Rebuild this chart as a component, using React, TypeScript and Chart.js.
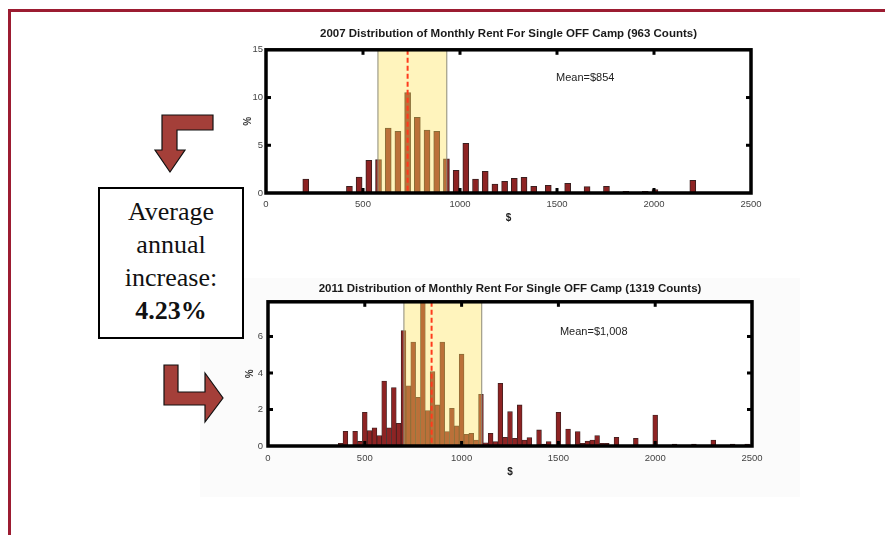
import React, { useEffect, useRef } from "react";
import { Chart, registerables } from "chart.js";
Chart.register(...registerables);

// ---- data ----
const title2007 = "2007 Distribution of Monthly Rent For Single OFF Camp (963 Counts)";
const bins2007 = [205, 430, 480, 530, 580, 630, 680, 730, 780, 830, 880, 930, 980, 1030, 1080, 1130, 1180, 1230, 1280, 1330, 1380, 1455, 1555, 1655, 1755, 1855, 1955, 2005, 2055, 2150, 2200];
const pct2007 = [1.46, 0.7, 1.67, 3.42, 3.49, 6.8, 6.45, 10.53, 7.92, 6.59, 6.45, 3.59, 2.37, 5.2, 1.46, 2.27, 0.94, 1.22, 1.53, 1.64, 0.7, 0.8, 1.0, 0.66, 0.7, 0.17, 0.17, 0.35, 0.1, 0.1, 1.33];
const band2007 = [577, 932];
const median2007 = 730;
const meanLabel2007 = "Mean=$854";
const meanLabelPos2007 = [1495, 12];

const title2011 = "2011 Distribution of Monthly Rent For Single OFF Camp (1319 Counts)";
const bins2011 = [375, 400, 450, 475, 500, 525, 550, 575, 600, 625, 650, 675, 700, 725, 750, 775, 800, 825, 850, 875, 900, 925, 950, 975, 1000, 1025, 1050, 1075, 1100, 1125, 1150, 1175, 1200, 1225, 1250, 1275, 1300, 1325, 1350, 1400, 1425, 1450, 1500, 1525, 1550, 1600, 1625, 1650, 1675, 1700, 1725, 1750, 1800, 1900, 2000, 2100, 2200, 2300, 2400, 2475];
const pct2011 = [0.15, 0.8, 0.8, 0.25, 1.85, 0.85, 1.0, 0.57, 3.56, 1.0, 3.2, 1.24, 6.33, 3.3, 5.69, 2.67, 8.3, 1.94, 4.08, 2.25, 5.69, 0.79, 2.07, 1.1, 5.03, 0.64, 0.7, 0.33, 2.83, 0.18, 0.7, 0.24, 3.44, 0.48, 1.88, 0.42, 2.25, 0.33, 0.46, 0.88, 0.1, 0.24, 1.85, 0.05, 0.93, 0.79, 0.15, 0.27, 0.33, 0.57, 0.15, 0.15, 0.48, 0.42, 1.7, 0.1, 0.1, 0.33, 0.1, 0.1];
const band2011 = [702, 1104];
const median2011 = 845;
const meanLabel2011 = "Mean=$1,008";
const meanLabelPos2011 = [1508, 6.25];

const xTicksMax = 2500;
const xTickStep = 500;
const boxLines = ["Average", "annual", "increase:"];
const boxValue = "4.23%";

const SANS = '"Liberation Sans", Arial, sans-serif';

type HistSpec = {
  title: string;
  bins: number[];
  pct: number[];
  band: number[];
  median: number;
  meanLabel: string;
  meanPos: number[];
  yMax: number;
  yStep: number;
  barThickness: number;
  barBorder: number;
  yWidth: number;
  xHeight: number;
  rightPad: number;
  titlePad: { top: number; bottom: number };
  xTickPad: number;
  xTitlePad: number;
  yTitlePad: number;
  yTickPad: number;
};

function makeConfig(s: HistSpec): any {
  const decor = {
    id: "decor",
    beforeDatasetsDraw(chart: any) {
      const { ctx, chartArea: a } = chart;
      ctx.save();
      ctx.fillStyle = "#ffffff";
      ctx.fillRect(a.left, a.top, a.right - a.left, a.bottom - a.top);
      ctx.restore();
    },
    afterDatasetsDraw(chart: any) {
      const { ctx, chartArea: a, scales } = chart;
      const x = scales.x, y = scales.y;
      const x0 = x.getPixelForValue(s.band[0]);
      const x1 = x.getPixelForValue(s.band[1]);
      ctx.save();
      ctx.beginPath();
      ctx.rect(a.left, a.top, a.right - a.left, a.bottom - a.top);
      ctx.clip();
      ctx.fillStyle = "rgba(255,228,90,0.4)";
      ctx.fillRect(x0, a.top, x1 - x0, a.bottom - a.top);
      ctx.strokeStyle = "#8c8a78";
      ctx.lineWidth = 1;
      ctx.beginPath();
      ctx.moveTo(x0, a.top); ctx.lineTo(x0, a.bottom);
      ctx.moveTo(x1, a.top); ctx.lineTo(x1, a.bottom);
      ctx.stroke();
      const xm = x.getPixelForValue(s.median);
      ctx.setLineDash([5, 3]);
      ctx.strokeStyle = "#ff3b1c";
      ctx.lineWidth = 2;
      ctx.beginPath();
      ctx.moveTo(xm, a.top); ctx.lineTo(xm, a.bottom);
      ctx.stroke();
      ctx.setLineDash([]);
      ctx.fillStyle = "#222";
      ctx.font = "11px " + SANS;
      ctx.textBaseline = "middle";
      ctx.textAlign = "left";
      ctx.fillText(s.meanLabel, x.getPixelForValue(s.meanPos[0]), y.getPixelForValue(s.meanPos[1]));
      ctx.restore();
    },
    afterDraw(chart: any) {
      const { ctx, chartArea: a, scales } = chart;
      const x = scales.x, y = scales.y;
      ctx.save();
      ctx.strokeStyle = "#000";
      ctx.lineWidth = 3.5;
      ctx.strokeRect(a.left, a.top, a.right - a.left, a.bottom - a.top);
      ctx.fillStyle = "#000";
      x.ticks.forEach((t: any) => {
        if (t.value <= 0 || t.value >= xTicksMax) return;
        const px = x.getPixelForValue(t.value);
        ctx.fillRect(px - 1.5, a.bottom - 5, 3, 5);
        ctx.fillRect(px - 1.5, a.top, 3, 5);
      });
      y.ticks.forEach((t: any) => {
        if (t.value <= 0 || t.value >= s.yMax) return;
        const py = y.getPixelForValue(t.value);
        ctx.fillRect(a.left, py - 1.5, 5, 3);
        ctx.fillRect(a.right - 5, py - 1.5, 5, 3);
      });
      ctx.restore();
    },
  };

  return {
    type: "bar",
    data: {
      datasets: [
        {
          data: s.bins.map((b, i) => ({ x: b, y: s.pct[i] })),
          backgroundColor: "#8e2323",
          borderColor: "#3a2020",
          borderWidth: s.barBorder,
          barThickness: s.barThickness,
        },
      ],
    },
    options: {
      responsive: false,
      animation: false,
      devicePixelRatio: 1,
      layout: { padding: { left: 0, right: s.rightPad, top: 0, bottom: 0 } },
      plugins: {
        legend: { display: false },
        tooltip: { enabled: false },
        title: {
          display: true,
          text: s.title,
          fullSize: false,
          color: "#1a1a1a",
          font: { family: SANS, size: 11.5, weight: "bold", lineHeight: 1.2 },
          padding: s.titlePad,
        },
      },
      scales: {
        x: {
          type: "linear",
          min: 0,
          max: xTicksMax,
          offset: false,
          grid: { display: false, drawTicks: false, offset: false },
          border: { display: false },
          ticks: {
            stepSize: xTickStep,
            padding: s.xTickPad,
            color: "#444",
            font: { family: SANS, size: 9.5 },
            maxRotation: 0,
            autoSkip: false,
            callback: (v: any) => String(v),
          },
          title: {
            display: true,
            text: "$",
            color: "#222",
            font: { family: SANS, size: 10, weight: "bold", lineHeight: 1.2 },
            padding: { top: 0, bottom: s.xTitlePad },
          },
          afterFit(sc: any) { sc.height = s.xHeight; },
        },
        y: {
          min: 0,
          max: s.yMax,
          grid: { display: false, drawTicks: false },
          border: { display: false },
          ticks: {
            stepSize: s.yStep,
            includeBounds: false,
            padding: s.yTickPad,
            color: "#444",
            font: { family: SANS, size: 9.5 },
            callback: (v: any) => String(v),
          },
          title: {
            display: true,
            text: "%",
            color: "#333",
            font: { family: SANS, size: 10, weight: "bold", lineHeight: 1.2 },
            padding: { top: s.yTitlePad, bottom: 0 },
          },
          afterFit(sc: any) { sc.width = s.yWidth; },
        },
      },
    },
    plugins: [decor],
  };
}

const spec2007: HistSpec = {
  title: title2007, bins: bins2007, pct: pct2007, band: band2007, median: median2007,
  meanLabel: meanLabel2007, meanPos: meanLabelPos2007, yMax: 15, yStep: 5,
  barThickness: 6, barBorder: 1, yWidth: 66, xHeight: 37, rightPad: 29,
  titlePad: { top: 7, bottom: 9 }, xTickPad: 6, xTitlePad: 6, yTitlePad: 42, yTickPad: 3,
};
const spec2011: HistSpec = {
  title: title2011, bins: bins2011, pct: pct2011, band: band2011, median: median2011,
  meanLabel: meanLabel2011, meanPos: meanLabelPos2011, yMax: 7.9, yStep: 2,
  barThickness: 4.8, barBorder: 0.8, yWidth: 68, xHeight: 39, rightPad: 28,
  titlePad: { top: 7, bottom: 6 }, xTickPad: 6.5, xTitlePad: 7, yTitlePad: 44, yTickPad: 5,
};

function Hist({ spec, left, top }: { spec: HistSpec; left: number; top: number }) {
  const ref = useRef<HTMLCanvasElement>(null);
  useEffect(() => {
    if (!ref.current) return;
    const c = new Chart(ref.current, makeConfig(spec));
    return () => c.destroy();
  }, [spec]);
  return (
    <canvas
      ref={ref}
      width={580}
      height={210}
      style={{ position: "absolute", left, top, width: 580, height: 210 }}
    />
  );
}

export default function App() {
  return (
    <div style={{ position: "absolute", left: 0, top: 0, width: 892, height: 535, overflow: "hidden", background: "#fff" }}>
      <div style={{ position: "absolute", left: 8, top: 9, width: 874, height: 540, borderTop: "3px solid #9c1c31", borderLeft: "3px solid #9c1c31" }} />
      <div style={{ position: "absolute", left: 200, top: 278, width: 600, height: 219, background: "#fbfbfb" }} />
      <Hist spec={spec2007} left={200} top={20} />
      <Hist spec={spec2011} left={200} top={275} />
      <svg width={892} height={535} style={{ position: "absolute", left: 0, top: 0 }}>
        <polygon
          points="162,115 213,115 213,130 177,130 177,150 185,150 170,172 155,150 162,150"
          fill="#a43f39" stroke="#111" strokeWidth={1.2} />
        <polygon
          points="164,365 178,365 178,392 205,392 205,373 223,398 205,422 205,405 164,405"
          fill="#a43f39" stroke="#111" strokeWidth={1.2} />
      </svg>
      <div
        style={{
          position: "absolute", left: 98, top: 187, width: 146, height: 152, boxSizing: "border-box",
          border: "2.5px solid #000", background: "#fff", textAlign: "center",
          fontFamily: '"Liberation Serif", "Times New Roman", serif', fontSize: 26, lineHeight: "33px",
          paddingTop: 6, color: "#111",
        }}
      >
        {boxLines.map((l) => (<div key={l}>{l}</div>))}
        <div style={{ fontWeight: "bold" }}>{boxValue}</div>
      </div>
    </div>
  );
}
